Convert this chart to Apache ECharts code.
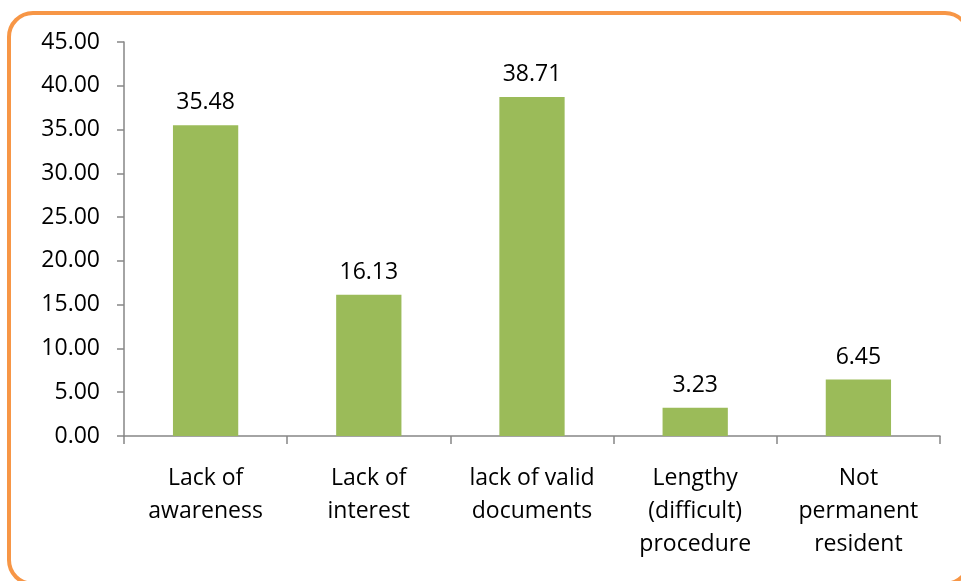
<!DOCTYPE html>
<html>
<head>
<meta charset="utf-8">
<script src="https://cdn.jsdelivr.net/npm/echarts@6/dist/echarts.min.js"></script>
<style>
  html, body { margin: 0; padding: 0; background: #fff; overflow: hidden; }
  .frame {
    position: absolute; left: 7px; top: 11px; width: 964px; height: 575px;
    border: 4px solid #F79646; border-radius: 26px; box-sizing: border-box;
  }
  #chart { position: absolute; left: 0; top: 0; width: 961px; height: 581px; }
</style>
</head>
<body>
<div class="frame"></div>
<div id="chart"></div>
<script>
var categories = ['Lack of\nawareness', 'Lack of\ninterest', 'lack of valid\ndocuments', 'Lengthy\n(difficult)\nprocedure', 'Not\npermanent\nresident']
var values = [35.48, 16.13, 38.71, 3.23, 6.45]
var yTicks = { min: 0, max: 45, interval: 5 }

var font = 'Open Sans, Noto Sans, sans-serif'
var myChart = echarts.init(document.getElementById('chart'))
var option = {
  animation: false,
  grid: { left: 124, right: 21, top: 42, bottom: 145 },
  xAxis: {
    type: 'category',
    data: categories,
    axisLine: { lineStyle: { color: '#868686', width: 1.5 } },
    axisTick: { show: true, length: 8, lineStyle: { color: '#868686', width: 1.5 } },
    axisLabel: { color: '#000', fontSize: 23, fontFamily: font, lineHeight: 33, margin: 26, interval: 0 }
  },
  yAxis: {
    type: 'value',
    min: yTicks.min,
    max: yTicks.max,
    interval: yTicks.interval,
    splitLine: { show: false },
    axisLine: { show: true, lineStyle: { color: '#868686', width: 1.5 } },
    axisTick: { show: true, length: 7, lineStyle: { color: '#868686', width: 1.5 } },
    axisLabel: {
      color: '#000', fontSize: 23, fontFamily: font, margin: 24,
      formatter: function (v) { return v.toFixed(2) }
    }
  },
  series: [{
    type: 'bar',
    data: values,
    barWidth: '40%',
    itemStyle: { color: '#9BBB59' },
    label: {
      show: true, position: 'top', distance: 11,
      color: '#000', fontSize: 23, fontFamily: font,
      formatter: function (p) { return p.value.toFixed(2) }
    }
  }]
}
myChart.setOption(option)
</script>
</body>
</html>
